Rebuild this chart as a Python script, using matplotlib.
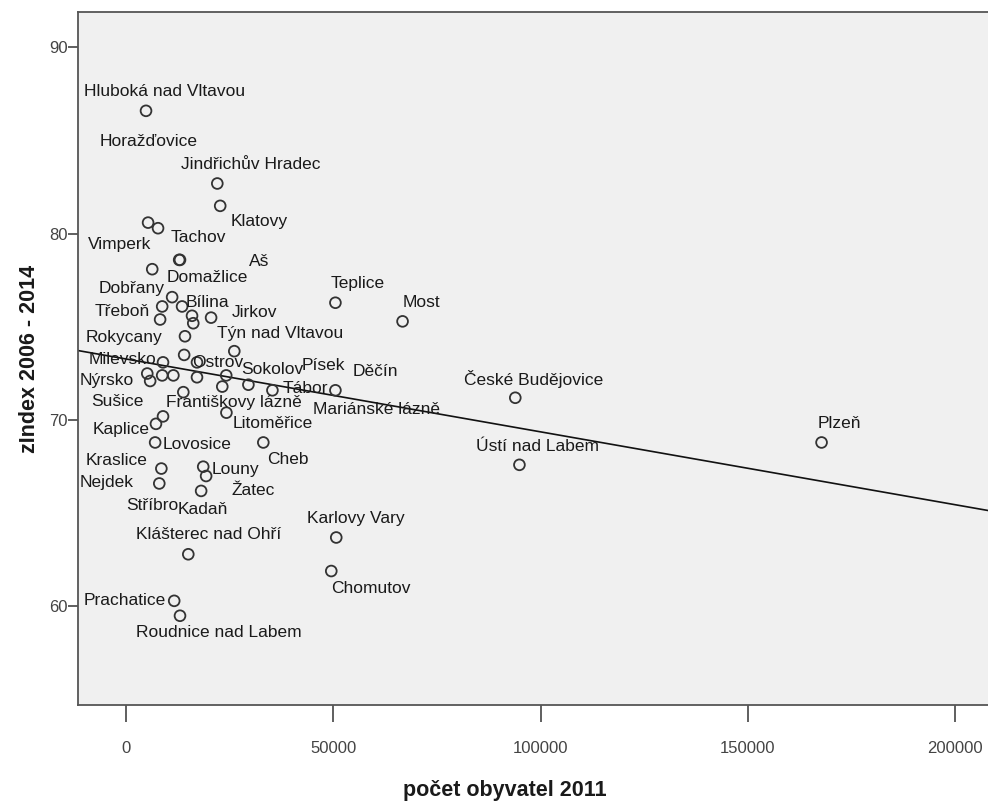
import numpy as np
import matplotlib
matplotlib.use("Agg")
import matplotlib.pyplot as plt

# Town names (empty string = point drawn without a label, as in the SPSS output)
towns = [
    "Hluboká nad Vltavou", "Jindřichův Hradec", "Klatovy", "Horažďovice", "Vimperk",
    "Tachov", "Aš", "Dobřany", "Domažlice", "Třeboň",
    "", "", "Bílina", "", "Jirkov",
    "Rokycany", "Týn nad Vltavou", "Ostrov", "Milevsko", "",
    "Nýrsko", "Sušice", "Františkovy lázně", "", "",
    "Sokolov", "", "Písek", "Tábor", "Mariánské lázně",
    "Litoměřice", "Kaplice", "Lovosice", "Kraslice", "Cheb",
    "Nejdek", "Louny", "Žatec", "Stříbro", "Kadaň",
    "Klášterec nad Ohří", "Prachatice", "Roudnice nad Labem", "Karlovy Vary", "Chomutov",
    "Teplice", "Most", "Děčín", "České Budějovice", "Ústí nad Labem",
    "Plzeň",
]

# počet obyvatel 2011
population = [
    4800, 22000, 22700, 5300, 7700,
    12800, 13000, 6300, 11100, 8700,
    13500, 8200, 15900, 16200, 20500,
    14200, 26100, 14000, 8900, 17100,
    5100, 5800, 8700, 11400, 17100,
    24150, 23200, 29500, 35300, 13800,
    24200, 8900, 7200, 7000, 33100,
    8500, 18600, 19300, 8000, 18100,
    15000, 11600, 13000, 50700, 49500,
    50500, 66700, 50500, 93900, 94900,
    167800,
]

# zIndex 2006 - 2014
zindex = [
    86.6, 82.7, 81.5, 80.6, 80.3,
    78.6, 78.6, 78.1, 76.6, 76.1,
    76.1, 75.4, 75.6, 75.2, 75.5,
    74.5, 73.7, 73.5, 73.1, 73.1,
    72.5, 72.1, 72.4, 72.4, 72.3,
    72.4, 71.8, 71.9, 71.6, 71.5,
    70.4, 70.2, 69.8, 68.8, 68.8,
    67.4, 67.5, 67.0, 66.6, 66.2,
    62.8, 60.3, 59.5, 63.7, 61.9,
    76.3, 75.3, 71.6, 71.2, 67.6,
    68.8,
]

x_ticks = [0, 50000, 100000, 150000, 200000]
y_ticks = [60, 70, 80, 90]

# where SPSS put each label relative to its point (pixels, right / down)
label_offsets = {
    "Hluboká nad Vltavou": (19, -19), "Jindřichův Hradec": (33, -19), "Klatovy": (39, 16),
    "Horažďovice": (1, -81), "Vimperk": (-38, 16), "Tachov": (19, -22), "Aš": (79, 2),
    "Dobřany": (-21, 19), "Domažlice": (35, -20), "Třeboň": (-40, 5), "Bílina": (15, -13),
    "Jirkov": (43, -5), "Rokycany": (-61, 1), "Týn nad Vltavou": (46, -18), "Ostrov": (34, 8),
    "Milevsko": (-41, -3), "Nýrsko": (-41, 7), "Sušice": (-33, 21),
    "Františkovy lázně": (72, 27), "Sokolov": (46, -6), "Písek": (75, -19), "Tábor": (33, -2),
    "Mariánské lázně": (193, 17), "Litoměřice": (46, 11), "Kaplice": (-42, 13),
    "Lovosice": (41, 21), "Kraslice": (-39, 18), "Cheb": (25, 17), "Nejdek": (-55, 14),
    "Louny": (32, 3), "Žatec": (47, 14), "Stříbro": (-7, 22), "Kadaň": (2, 19),
    "Klášterec nad Ohří": (20, -20), "Prachatice": (-49, 0), "Roudnice nad Labem": (39, 17),
    "Karlovy Vary": (20, -19), "Chomutov": (40, 17), "Teplice": (22, -19), "Most": (19, -19),
    "Děčín": (40, -19), "České Budějovice": (18, -19), "Ústí nad Labem": (18, -18),
    "Plzeň": (18, -19),
}


def plot_scatter():
    plt.rcParams['font.family'] = ['Liberation Sans', 'DejaVu Sans']
    fig = plt.figure(figsize=(9.88, 8.05), dpi=100)
    ax = fig.add_axes([0.079, 0.124, 0.922, 0.861])
    ax.set_facecolor('#f0f0f0')

    x = np.array(population, dtype=float)
    y = np.array(zindex)

    # linear fit line across the whole axis
    xmin, xmax = -11600, 208200
    slope, intercept = np.polyfit(x, y, 1)
    xs = np.array([xmin, xmax])
    ax.plot(xs, intercept + slope * xs, color='#111111', lw=1.2, zorder=2)

    ax.scatter(x, y, s=60, facecolors='none', edgecolors='#333333', linewidths=1.3, zorder=3)

    for name, xi, yi in zip(towns, x, y):
        if not name:
            continue
        dx, dy = label_offsets[name]
        ax.annotate(name, (xi, yi), xytext=(dx, -dy), textcoords='offset pixels',
                    ha='center', va='center', fontsize=12.5, color='#1a1a1a', zorder=4)

    ax.set_xlim(xmin, xmax)
    ax.set_ylim(54.7, 91.9)
    ax.set_xticks(x_ticks)
    ax.set_yticks(y_ticks)
    ax.set_xticklabels([str(t) for t in x_ticks])
    ax.tick_params(direction='out', width=1.2, color='#444444',
                   labelsize=12, labelcolor='#444444')
    ax.tick_params(axis='x', length=12, pad=14)
    ax.tick_params(axis='y', length=7, pad=0.5)

    for side in ['left', 'bottom', 'top', 'right']:
        ax.spines[side].set_color('#555555')
        ax.spines[side].set_linewidth(1.3)

    ax.set_xlabel('počet obyvatel 2011', fontsize=15.5, fontweight='bold', color='#1a1a1a')
    ax.set_ylabel('zIndex 2006 - 2014', fontsize=15.5, fontweight='bold', color='#1a1a1a')
    ax.xaxis.set_label_coords(0.469, -0.123)
    ax.xaxis.label.set_va('center')
    ax.yaxis.set_label_coords(-0.053, 0.5)
    ax.yaxis.label.set_va('center')

    fig.savefig('out.png', dpi=100, facecolor='white')


if __name__ == "__main__":
    plot_scatter()
